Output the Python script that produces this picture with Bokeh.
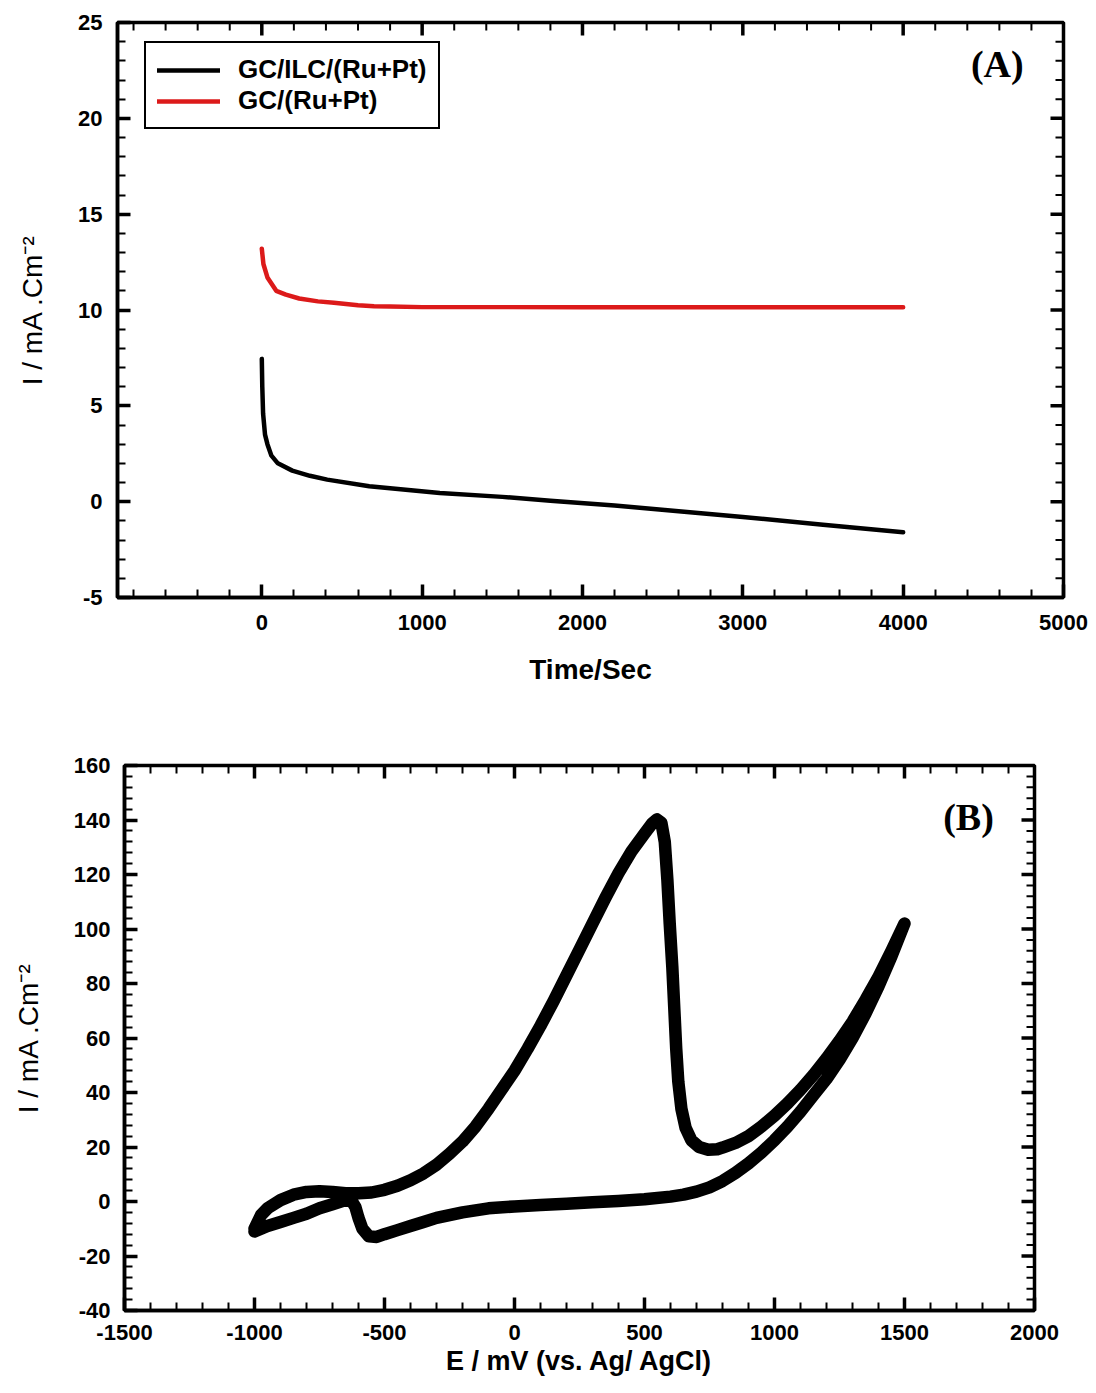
from bokeh.plotting import figure
from bokeh.models import Range1d, FixedTicker, Legend, LegendItem, Label, Spacer, PrintfTickFormatter
from bokeh.layouts import column, row
from bokeh.embed import file_html
from bokeh.resources import INLINE

# ---------------- Panel A data (chronoamperometry) ----------------
time_ilc = [0, 3, 8, 20, 35, 60, 100, 190, 300, 408, 670, 1110, 1500, 1800, 2200, 2600, 3000, 3500, 4000]
i_ilc = [7.45, 6.0, 4.6, 3.5, 3.0, 2.4, 2.0, 1.62, 1.35, 1.15, 0.8, 0.45, 0.25, 0.05, -0.2, -0.5, -0.8, -1.2, -1.6]

time_ref = [0, 10, 35, 90, 150, 233, 350, 450, 600, 700, 800, 1000, 2000, 3000, 4000]
i_ref = [13.2, 12.4, 11.7, 11.0, 10.8, 10.6, 10.45, 10.38, 10.25, 10.2, 10.18, 10.15, 10.15, 10.15, 10.15]

a_x_range = (-900, 5000)
a_y_range = (-5, 25)
a_x_major = [0, 1000, 2000, 3000, 4000, 5000]
a_x_minor = list(range(-800, 5001, 200))
a_y_major = [-5, 0, 5, 10, 15, 20, 25]
a_y_minor = list(range(-5, 26, 1))

# ---------------- Panel B data (cyclic voltammogram) ----------------
e_fwd = [-1000, -975, -950, -900, -850, -800, -750, -700, -650, -600,
         -550, -500, -450, -400, -350, -300, -250, -200, -150, -100,
         -50, 0, 50, 100, 150, 200, 250, 300, 350, 400,
         450, 500, 530, 548, 565, 578, 588, 597, 607, 615,
         622, 630, 642, 658, 680, 710, 745, 780, 800, 850,
         900, 950, 1000, 1050, 1100, 1150, 1200, 1250, 1300, 1350,
         1400, 1450, 1500]
i_fwd = [-10, -5, -2.5, 0.5, 2.5, 3.5, 3.8, 3.5, 3.0, 3.0,
         3.3, 4.3, 5.8, 7.8, 10.3, 13.5, 17.5, 22, 27.5, 34,
         41, 48, 56, 64.5, 73.5, 83, 92.5, 102, 111.5, 120.5,
         128.5, 135, 138.8, 140.2, 139, 132, 118, 102, 86, 70,
         56, 44, 34, 27, 22.5, 20, 19, 19.2, 19.8, 21.5,
         24, 27.5, 31.5, 36, 41, 46.5, 52.5, 59, 66, 74,
         82.5, 92, 102]
e_rev = [1500, 1450, 1400, 1350, 1300, 1250, 1200, 1150, 1100, 1050,
         1000, 950, 900, 850, 800, 750, 700, 650, 600, 500,
         400, 300, 200, 100, 0, -100, -200, -300, -350, -400,
         -450, -500, -530, -560, -585, -600, -612, -625, -650, -700,
         -750, -800, -850, -900, -950, -1000]
i_rev = [102, 90, 79, 69, 60, 52, 45, 39, 33, 27.5,
         22.5, 18, 14, 10.5, 7.5, 5.2, 3.6, 2.5, 1.8, 0.8,
         0.2, -0.3, -0.8, -1.3, -1.8, -2.5, -4, -6, -7.5, -9,
         -10.5, -12, -13, -12.8, -10, -6, -2, 0, 0.5, -1,
         -2.5, -4.5, -6, -7.5, -9, -11]

b_x_range = (-1500, 2000)
b_y_range = (-40, 160)
b_x_major = [-1500, -1000, -500, 0, 500, 1000, 1500, 2000]
b_x_minor = list(range(-1500, 2001, 100))
b_y_major = [-40, -20, 0, 20, 40, 60, 80, 100, 120, 140, 160]
b_y_minor = list(range(-40, 161, 4))

SANS = "Liberation Sans"
MAJ_LEN, MIN_LEN = 13, 8
MAJ_W, MIN_W = 3.5, 2


def style_axes(p, xr, yr, xmaj, xmin, ymaj, ymin):
    bottom = p.below[0]
    left = p.left[0]
    bottom.ticker = FixedTicker(ticks=xmaj, minor_ticks=xmin)
    left.ticker = FixedTicker(ticks=ymaj, minor_ticks=ymin)
    for ax in (bottom, left):
        ax.formatter = PrintfTickFormatter(format="%d")
        ax.axis_line_width = 3.5
        ax.axis_line_color = "black"
        ax.major_tick_in = MAJ_LEN
        ax.major_tick_out = 0
        ax.minor_tick_in = MIN_LEN
        ax.minor_tick_out = 0
        ax.major_tick_line_width = MAJ_W
        ax.minor_tick_line_width = MIN_W
        ax.major_tick_line_color = "black"
        ax.minor_tick_line_color = "black"
        ax.major_label_text_font = SANS
        ax.major_label_text_font_style = "bold"
        ax.major_label_text_font_size = "22px"
        ax.major_label_text_color = "black"
        ax.axis_label_text_font = SANS
        ax.axis_label_text_color = "black"
    # mirrored inward ticks on the top and right frame edges
    xmaj_in = [v for v in xmaj if xr[0] < v < xr[1]]
    xmin_in = [v for v in xmin if xr[0] < v < xr[1]]
    ymaj_in = [v for v in ymaj if yr[0] < v < yr[1]]
    ymin_in = [v for v in ymin if yr[0] < v < yr[1]]
    p.ray(x=xmin_in, y=[yr[1]] * len(xmin_in), length=MIN_LEN, length_units="screen",
          angle=-90, angle_units="deg", line_color="black", line_width=MIN_W)
    p.ray(x=xmaj_in, y=[yr[1]] * len(xmaj_in), length=MAJ_LEN, length_units="screen",
          angle=-90, angle_units="deg", line_color="black", line_width=MAJ_W)
    p.ray(x=[xr[1]] * len(ymin_in), y=ymin_in, length=MIN_LEN, length_units="screen",
          angle=180, angle_units="deg", line_color="black", line_width=MIN_W)
    p.ray(x=[xr[1]] * len(ymaj_in), y=ymaj_in, length=MAJ_LEN, length_units="screen",
          angle=180, angle_units="deg", line_color="black", line_width=MAJ_W)
    p.grid.visible = False
    p.outline_line_color = "black"
    p.outline_line_width = 3.5
    return bottom, left


# ---------------- Panel A ----------------
pA = figure(width=1088, height=712, x_range=Range1d(*a_x_range), y_range=Range1d(*a_y_range),
            output_backend="svg", toolbar_location=None,
            min_border_left=117, min_border_right=25, min_border_top=22, min_border_bottom=115)
r_ilc = pA.line(time_ilc, i_ilc, line_color="black", line_width=4.5, line_join="round", line_cap="round")
r_ref = pA.line(time_ref, i_ref, line_color="#dc1a1a", line_width=4.5, line_join="round", line_cap="round")
bA, lA = style_axes(pA, a_x_range, a_y_range, a_x_major, a_x_minor, a_y_major, a_y_minor)
bA.major_label_standoff = 17
bA.axis_label = "Time/Sec"
bA.axis_label_text_font_size = "28px"
bA.axis_label_text_font_style = "bold"
bA.axis_label_standoff = 21
lA.major_label_standoff = 15
lA.axis_label = "I / mA .Cm\u207b\u00b2"
lA.axis_label_text_font_size = "28px"
lA.axis_label_text_font_style = "normal"
lA.axis_label_standoff = 27

legend = Legend(items=[LegendItem(label="GC/ILC/(Ru+Pt)", renderers=[r_ilc]),
                       LegendItem(label="GC/(Ru+Pt)", renderers=[r_ref])],
                location=(27, 468), orientation="vertical",
                border_line_color="black", border_line_width=2, border_line_alpha=1.0,
                background_fill_color="white", background_fill_alpha=1.0,
                padding=11, spacing=0, margin=0,
                glyph_width=63, glyph_height=28, label_height=28, label_standoff=18,
                label_text_font=SANS, label_text_font_style="bold", label_text_font_size="26px",
                label_text_color="black")
pA.add_layout(legend)
pA.add_layout(Label(x=4587, y=22.86, text="(A)", text_font="Liberation Serif", text_font_style="bold",
                    text_font_size="38px", text_align="center", text_baseline="middle", text_color="black"))

# ---------------- Panel B ----------------
pB = figure(width=1052, height=680, x_range=Range1d(*b_x_range), y_range=Range1d(*b_y_range),
            output_backend="svg", toolbar_location=None,
            min_border_left=117, min_border_right=25, min_border_top=53, min_border_bottom=82)
pB.line(e_fwd + e_rev, i_fwd + i_rev, line_color="black", line_width=12.5, line_join="round", line_cap="round")
bB, lB = style_axes(pB, b_x_range, b_y_range, b_x_major, b_x_minor, b_y_major, b_y_minor)
bB.major_label_standoff = 14
bB.axis_label = "E / mV (vs. Ag/ AgCl)"
bB.axis_label_text_font_size = "27px"
bB.axis_label_text_font_style = "bold"
bB.axis_label_standoff = 3
lB.major_label_standoff = 14
lB.axis_label = "I / mA .Cm\u207b\u00b2"
lB.axis_label_text_font_size = "28px"
lB.axis_label_text_font_style = "normal"
lB.axis_label_standoff = 27
pB.add_layout(Label(x=1746, y=141, text="(B)", text_font="Liberation Serif", text_font_style="bold",
                    text_font_size="38px", text_align="center", text_baseline="middle", text_color="black"))

layout = column(pA, row(Spacer(width=7, height=680), pB, spacing=0), spacing=0)
open("out.html", "w").write(file_html(layout, INLINE))
